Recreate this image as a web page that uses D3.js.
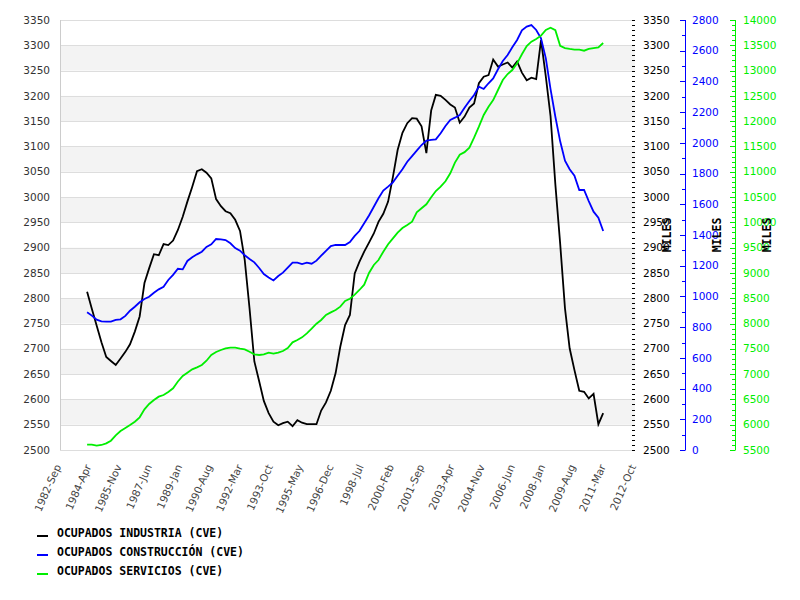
<!DOCTYPE html>
<html>
<head>
<meta charset="utf-8">
<script src="https://cdn.jsdelivr.net/npm/d3@7"></script>
<style>
  body { margin: 0; background: #fff; }
  svg { display: block; }
  .tick-label { font-family: "DejaVu Sans", sans-serif; font-size: 10.5px; }
  .mono { font-family: "DejaVu Sans Mono", monospace; font-weight: bold; font-size: 11.5px; }
</style>
</head>
<body>
<svg id="chart" width="800" height="600" viewBox="0 0 800 600"></svg>
<script>
// quarterly series, first point Feb 1984, one point every 3 months
const firstMonth = new Date(1984, 1, 1);

const industria = [
    2813, 2779, 2746, 2713, 2684, 2676, 2668, 2681, 2694, 2709,
    2734, 2764, 2830, 2859, 2887, 2885, 2907, 2905, 2914, 2935,
    2961, 2991, 3020, 3051, 3055, 3048, 3037, 2996, 2982, 2972,
    2968, 2955, 2933, 2876, 2780, 2675, 2636, 2597, 2573, 2556,
    2549, 2553, 2556, 2547, 2559, 2554, 2551, 2551, 2551, 2578,
    2594, 2617, 2652, 2704, 2747, 2767, 2849, 2872, 2892, 2910,
    2928, 2951, 2967, 2991, 3040, 3093, 3127, 3146, 3156, 3155,
    3140, 3087, 3171, 3202, 3200, 3192, 3183, 3177, 3147, 3159,
    3177, 3185, 3225, 3238, 3241, 3272, 3258, 3262, 3266, 3256,
    3268, 3246, 3231, 3236, 3233, 3310, 3238, 3160, 3025, 2908,
    2780, 2701, 2658, 2617, 2615, 2602, 2611, 2551, 2573
];

const construccion = [
    897, 875, 849, 838, 836, 836, 847, 851, 873, 907,
    933, 962, 983, 998, 1024, 1046, 1063, 1107, 1140, 1180,
    1176, 1231, 1255, 1274, 1291, 1322, 1339, 1374, 1372, 1367,
    1346, 1315, 1298, 1268, 1244, 1222, 1185, 1146, 1124, 1104,
    1133, 1155, 1187, 1220, 1220, 1211, 1220, 1213, 1233, 1265,
    1296, 1328, 1335, 1335, 1335, 1354, 1394, 1426, 1476, 1527,
    1584, 1639, 1689, 1715, 1743, 1786, 1828, 1877, 1914, 1949,
    1986, 2014, 2019, 2023, 2062, 2110, 2149, 2164, 2181, 2228,
    2273, 2312, 2366, 2351, 2388, 2420, 2479, 2533, 2572, 2622,
    2670, 2733, 2757, 2767, 2735, 2680, 2550, 2350, 2170, 2010,
    1884, 1828, 1786, 1693, 1693, 1621, 1552, 1513, 1426
];

const servicios = [
    5605, 5605, 5585, 5599, 5632, 5684, 5790, 5876, 5935, 5994,
    6060, 6146, 6304, 6409, 6488, 6554, 6587, 6647, 6719, 6854,
    6963, 7028, 7095, 7134, 7180, 7265, 7378, 7437, 7477, 7510,
    7523, 7523, 7503, 7490, 7443, 7391, 7378, 7391, 7424, 7404,
    7424, 7457, 7516, 7628, 7674, 7727, 7806, 7898, 7997, 8070,
    8169, 8221, 8267, 8333, 8445, 8491, 8570, 8663, 8768, 8999,
    9157, 9256, 9420, 9566, 9684, 9796, 9888, 9948, 10013, 10198,
    10278, 10357, 10495, 10620, 10705, 10811, 10969, 11180, 11338, 11388,
    11476, 11674, 11891, 12122, 12286, 12418, 12616, 12814, 12932, 13011,
    13144, 13322, 13486, 13571, 13624, 13690, 13805, 13848, 13800, 13490,
    13446, 13427, 13413, 13413, 13393, 13427, 13446, 13460, 13545
];

const seriesNames = [
    "OCUPADOS INDUSTRIA (CVE)",
    "OCUPADOS CONSTRUCCIÓN (CVE)",
    "OCUPADOS SERVICIOS (CVE)"
];
const seriesColors = ["#000000", "#0000ff", "#00ee00"];

const xStart = new Date(1982, 8, 1);
const xEnd = new Date(2012, 9, 1);
const xTickStepMonths = 19;

const svg = d3.select("#chart");
const plotLeft = 60, plotRight = 635, plotTop = 20, plotBottom = 450;

const x = d3.scaleTime().domain([xStart, xEnd]).range([plotLeft, plotRight]);
const yInd = d3.scaleLinear().domain([2500, 3350]).range([plotBottom, plotTop]);
const yCon = d3.scaleLinear().domain([0, 2800]).range([plotBottom, plotTop]);
const ySer = d3.scaleLinear().domain([5500, 14000]).range([plotBottom, plotTop]);

// background bands + grid
const gridValues = d3.range(2500, 3351, 50);
svg.append("g").selectAll("rect")
    .data(d3.range(2550, 3300, 100))
    .enter().append("rect")
    .attr("x", plotLeft)
    .attr("width", plotRight - plotLeft)
    .attr("y", d => yInd(d + 50))
    .attr("height", d => yInd(d) - yInd(d + 50))
    .attr("fill", "#f3f3f3");

svg.append("g").selectAll("line")
    .data(gridValues)
    .enter().append("line")
    .attr("x1", plotLeft).attr("x2", plotRight)
    .attr("y1", d => Math.round(yInd(d)) + 0.5).attr("y2", d => Math.round(yInd(d)) + 0.5)
    .attr("stroke", "#dddddd");

svg.append("line")
    .attr("x1", plotLeft + 0.5).attr("x2", plotLeft + 0.5)
    .attr("y1", plotTop).attr("y2", plotBottom)
    .attr("stroke", "#cccccc");

// left axis labels
svg.append("g").selectAll("text")
    .data(gridValues)
    .enter().append("text")
    .attr("class", "tick-label")
    .attr("x", 50)
    .attr("y", d => yInd(d))
    .attr("dy", "0.35em")
    .attr("text-anchor", "end")
    .attr("fill", "#333")
    .text(d => d);

// x axis labels
const xTicks = d3.range(20).map(k => d3.timeMonth.offset(xStart, k * xTickStepMonths));
const fmt = d3.timeFormat("%Y-%b");
svg.append("g").selectAll("text")
    .data(xTicks)
    .enter().append("text")
    .attr("class", "tick-label")
    .attr("font-size", "11px")
    .attr("text-anchor", "end")
    .attr("fill", "#444")
    .attr("transform", d => `translate(${x(d) - 2},${plotBottom + 15}) rotate(-66)`)
    .attr("dy", "0.35em")
    .text(fmt);

// right axis 1 (industria) - dotted minor ticks, no line
const ax1 = svg.append("g");
ax1.selectAll("line")
    .data(d3.range(2500, 3351, 10))
    .enter().append("line")
    .attr("x1", plotRight - 3).attr("x2", plotRight)
    .attr("y1", d => Math.round(yInd(d)) + 0.5).attr("y2", d => Math.round(yInd(d)) + 0.5)
    .attr("stroke", "#000");
ax1.selectAll("text")
    .data(gridValues)
    .enter().append("text")
    .attr("class", "tick-label")
    .attr("x", 643)
    .attr("y", d => yInd(d))
    .attr("dy", "0.35em")
    .attr("fill", "#000")
    .text(d => d);

// right axis 2 (construccion)
const ax2x = 685;
const ax2 = svg.append("g");
ax2.append("line")
    .attr("x1", ax2x + 0.5).attr("x2", ax2x + 0.5)
    .attr("y1", plotTop).attr("y2", plotBottom + 0.5)
    .attr("stroke", "#0000ff");
ax2.selectAll(".tk")
    .data(d3.range(0, 2801, 100))
    .enter().append("line")
    .attr("x1", d => d % 200 === 0 ? ax2x - 5 : ax2x - 3).attr("x2", ax2x)
    .attr("y1", d => Math.round(yCon(d)) + 0.5).attr("y2", d => Math.round(yCon(d)) + 0.5)
    .attr("stroke", "#0000ff");
ax2.selectAll("text")
    .data(d3.range(0, 2801, 200))
    .enter().append("text")
    .attr("class", "tick-label")
    .attr("x", 692)
    .attr("y", d => yCon(d))
    .attr("dy", "0.35em")
    .attr("fill", "#0000ff")
    .text(d => d);

// right axis 3 (servicios)
const ax3x = 735;
const ax3 = svg.append("g");
ax3.append("line")
    .attr("x1", ax3x + 0.5).attr("x2", ax3x + 0.5)
    .attr("y1", plotTop).attr("y2", plotBottom + 0.5)
    .attr("stroke", "#00ee00");
ax3.selectAll(".tk")
    .data(d3.range(5500, 14001, 100))
    .enter().append("line")
    .attr("x1", d => d % 500 === 0 ? ax3x - 5 : ax3x - 3).attr("x2", ax3x)
    .attr("y1", d => Math.round(ySer(d)) + 0.5).attr("y2", d => Math.round(ySer(d)) + 0.5)
    .attr("stroke", "#00ee00");
ax3.selectAll("text")
    .data(d3.range(5500, 14001, 500))
    .enter().append("text")
    .attr("class", "tick-label")
    .attr("x", 743)
    .attr("y", d => ySer(d))
    .attr("dy", "0.35em")
    .attr("fill", "#00ee00")
    .text(d => d);

// MILES titles
[667, 717, 767].forEach(cx => {
    svg.append("text")
        .attr("class", "mono")
        .attr("transform", `translate(${cx + 4},235) rotate(-90)`)
        .attr("text-anchor", "middle")
        .attr("fill", "#000")
        .text("MILES");
});

// lines
const dateAt = i => d3.timeMonth.offset(firstMonth, 3 * i);
const plots = [
    { values: industria, y: yInd },
    { values: construccion, y: yCon },
    { values: servicios, y: ySer }
];
plots.forEach((p, k) => {
    const line = d3.line()
        .x((d, i) => x(dateAt(i)))
        .y(d => p.y(d));
    svg.append("path")
        .datum(p.values)
        .attr("fill", "none")
        .attr("stroke", seriesColors[k])
        .attr("stroke-width", 1.8)
        .attr("d", line);
});

// legend
const legend = svg.append("g");
seriesNames.forEach((name, k) => {
    const ly = 533 + k * 19;
    legend.append("rect")
        .attr("x", 37).attr("y", ly + 2)
        .attr("width", 11).attr("height", 2)
        .attr("fill", seriesColors[k]);
    legend.append("text")
        .attr("class", "mono")
        .attr("x", 57).attr("y", ly)
        .attr("dy", "0.35em")
        .attr("fill", "#000")
        .text(name);
});
</script>
</body>
</html>
